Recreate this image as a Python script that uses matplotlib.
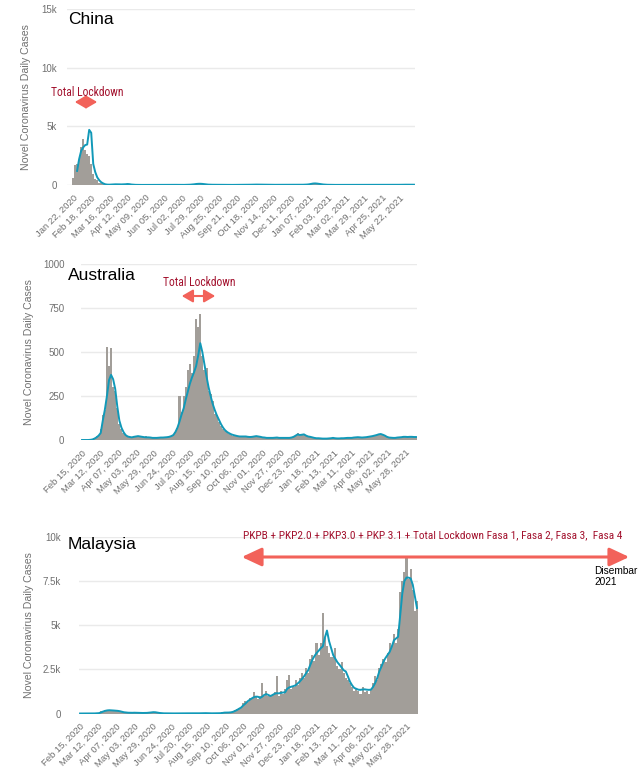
import numpy as np
import pandas as pd
import matplotlib
matplotlib.use("Agg")
import matplotlib.pyplot as plt
from matplotlib import font_manager

nan = np.nan

# --- China: daily cases (3-day steps from Jan 22, 2020) + 7-day average ---
china_start = "2020-01-22"
china_bars = [
    600, 1700, 1800, 2100, 3200, 3900, 3000, 2600, 2500, 1800,
    900, 500, 430, 200, 130, 60, 25, 20, 30, 50,
    60, 70, 50, 50, 40, 50, 70, 110, 50, 25,
    20, 10, 5, 5, 5, 10, 8, 6, 5, 10,
    5, 5, 6, 8, 10, 5, 10, 20, 30, 25,
    20, 15, 10, 10, 8, 10, 15, 20, 25, 40,
    60, 90, 100, 110, 100, 80, 40, 30, 25, 20,
    20, 20, 15, 15, 10, 10, 10, 12, 10, 10,
    10, 12, 15, 20, 15, 12, 15, 20, 25, 30,
    30, 40, 35, 25, 20, 15, 20, 15, 15, 20,
    15, 20, 15, 15, 15, 20, 20, 15, 20, 25,
    20, 20, 25, 25, 20, 30, 40, 60, 100, 130,
    140, 120, 100, 70, 40, 30, 20, 15, 15, 10,
    10, 10, 10, 10, 10, 10, 10, 10, 12, 15,
    15, 12, 10, 15, 20, 20, 15, 15, 20, 20,
    20, 15, 15, 15, 12, 15, 15, 15, 15, 12,
    15, 15, 20, 25, 30, 25, 30, 25, 25, 25,
]
china_avg = [
    nan, nan, 1200, 2200, 2900, 3200, 3400, 3450, 4700, 4450,
    1800, 1100, 650, 400, 230, 130, 60, 35, 30, 40,
    50, 60, 60, 55, 50, 55, 65, 85, 70, 40,
    25, 15, 10, 8, 7, 8, 8, 7, 7, 7,
    7, 6, 7, 8, 8, 9, 12, 18, 24, 24,
    20, 15, 12, 10, 10, 11, 15, 20, 27, 40,
    60, 85, 100, 105, 95, 75, 50, 35, 26, 22,
    20, 18, 16, 14, 12, 11, 11, 11, 10, 10,
    11, 12, 15, 17, 16, 14, 16, 20, 25, 30,
    33, 36, 33, 26, 20, 18, 17, 16, 16, 17,
    17, 17, 16, 15, 16, 18, 18, 18, 20, 22,
    21, 21, 23, 24, 24, 30, 40, 60, 95, 125,
    135, 120, 95, 68, 45, 30, 21, 16, 14, 11,
    10, 10, 10, 10, 10, 10, 10, 10, 12, 14,
    14, 13, 12, 14, 18, 19, 16, 16, 18, 19,
    19, 16, 15, 15, 13, 14, 15, 15, 14, 13,
    14, 15, 19, 24, 27, 27, 28, 26, 25, 25,
]

# --- Australia (3-day steps from Feb 15, 2020) ---
aus_start = "2020-02-15"
aus_bars = [
    0, 0, 0, 0, 2, 5, 10, 20, 30, 60,
    140, 170, 530, 420, 520, 300, 280, 180, 90, 60,
    40, 25, 20, 15, 18, 25, 15, 20, 18, 15,
    15, 20, 12, 10, 15, 12, 10, 15, 18, 12,
    15, 18, 20, 25, 30, 45, 70, 250, 160, 250,
    300, 400, 430, 380, 480, 690, 640, 715, 480, 400,
    410, 280, 260, 220, 150, 140, 100, 80, 60, 50,
    45, 35, 30, 25, 20, 15, 20, 18, 15, 20,
    20, 15, 18, 22, 25, 18, 15, 12, 10, 12,
    10, 12, 14, 10, 15, 12, 10, 12, 14, 10,
    12, 15, 20, 30, 40, 25, 30, 35, 25, 18,
    20, 15, 10, 12, 8, 10, 8, 6, 10, 8,
    12, 10, 8, 10, 8, 12, 10, 12, 14, 10,
    12, 16, 15, 18, 14, 12, 16, 15, 20, 22,
    20, 28, 30, 35, 32, 28, 22, 16, 12, 14,
    10, 14, 12, 16, 18, 15, 20, 16, 18, 20, 15, 18,
]
aus_avg = [
    0, 0, 0, 0, 1, 3, 8, 15, 25, 40,
    110, 172, 250, 340, 370, 345, 290, 190, 110, 70,
    45, 28, 20, 17, 15, 18, 20, 22, 20, 18,
    16, 15, 15, 14, 12, 12, 12, 13, 14, 14,
    15, 16, 18, 22, 28, 45, 70, 105, 145, 180,
    230, 275, 320, 355, 385, 420, 480, 550, 500, 430,
    362, 300, 250, 205, 170, 140, 115, 90, 70, 55,
    45, 38, 32, 28, 25, 22, 20, 20, 20, 20,
    18, 17, 18, 20, 22, 20, 18, 15, 14, 12,
    12, 12, 12, 13, 14, 12, 12, 12, 12, 12,
    12, 14, 18, 25, 32, 28, 30, 32, 25, 20,
    18, 15, 12, 10, 10, 9, 8, 8, 8, 9,
    10, 12, 10, 9, 9, 10, 10, 11, 12, 12,
    12, 14, 15, 16, 15, 14, 15, 16, 18, 20,
    22, 25, 28, 32, 34, 30, 25, 18, 14, 13,
    12, 12, 14, 15, 16, 18, 18, 17, 18, 18, 17, 17,
]

# --- Malaysia (3-day steps from Feb 15, 2020) ---
mys_start = "2020-02-15"
mys_bars = [
    0, 0, 0, 0, 2, 5, 5, 10, 20, 40,
    120, 150, 200, 210, 170, 150, 180, 170, 140, 110,
    90, 60, 50, 40, 30, 50, 60, 35, 30, 40,
    25, 30, 45, 60, 90, 100, 70, 40, 25, 15,
    8, 6, 5, 5, 3, 5, 7, 5, 10, 8,
    10, 12, 15, 18, 12, 10, 8, 15, 20, 15,
    20, 12, 10, 8, 10, 15, 20, 25, 60, 60,
    50, 70, 80, 100, 180, 260, 300, 380, 600, 690,
    660, 870, 820, 1240, 1000, 820, 1000, 1750, 1000, 1250,
    970, 1000, 1100, 1200, 2130, 1000, 1300, 1100, 1400, 1880,
    2180, 1400, 1500, 1900, 1600, 2000, 2300, 2000, 2600, 2300,
    3100, 3300, 3000, 4000, 3300, 4000, 5700, 4300, 3800, 3400,
    3200, 3200, 3700, 2700, 2500, 2900, 2300, 2000, 1900, 1700,
    1500, 1300, 1400, 1250, 1100, 1500, 1200, 1300, 1100, 1400,
    1700, 2100, 1900, 2600, 2800, 3100, 2900, 3400, 4000, 3800,
    4500, 4000, 4800, 6900, 7500, 8000, 8900, 7600, 8200, 7000, 5800, 6400,
]
mys_avg = [
    0, 0, 0, 0, 1, 1, 2, 5, 10, 20,
    60, 110, 150, 175, 185, 180, 170, 160, 150, 130,
    100, 70, 55, 45, 40, 40, 45, 40, 35, 30,
    30, 30, 35, 45, 60, 75, 70, 50, 30, 20,
    10, 8, 6, 5, 5, 5, 5, 6, 8, 8,
    10, 10, 12, 15, 15, 12, 10, 12, 15, 18,
    20, 15, 12, 10, 10, 12, 15, 18, 30, 50,
    50, 55, 65, 90, 140, 200, 270, 340, 460, 560,
    680, 770, 850, 920, 955, 950, 880, 950, 1050, 1100,
    1050, 990, 1050, 1120, 1150, 1140, 1170, 1190, 1200, 1400,
    1480, 1520, 1550, 1600, 1700, 1810, 1950, 2100, 2280, 2450,
    2750, 3040, 3250, 3420, 3550, 3700, 3800, 4300, 4700, 4100,
    3700, 3300, 3100, 2900, 2760, 2600, 2450, 2380, 2100, 1800,
    1600, 1450, 1400, 1350, 1340, 1360, 1370, 1350, 1340, 1350,
    1500, 1720, 2000, 2380, 2650, 2940, 3150, 3320, 3500, 3800,
    4150, 4250, 4350, 5600, 6800, 7500, 7700, 7700, 7650, 7300, 6640, 5980,
]

china_ticks = ["Jan 22, 2020", "Feb 18, 2020", "Mar 16, 2020", "Apr 12, 2020", "May 09, 2020",
               "Jun 05, 2020", "Jul 02, 2020", "Jul 29, 2020", "Aug 25, 2020", "Sep 21, 2020",
               "Oct 18, 2020", "Nov 14, 2020", "Dec 11, 2020", "Jan 07, 2021", "Feb 03, 2021",
               "Mar 02, 2021", "Mar 29, 2021", "Apr 25, 2021", "May 22, 2021"]
other_ticks = ["Feb 15, 2020", "Mar 12, 2020", "Apr 07, 2020", "May 03, 2020", "May 29, 2020",
               "Jun 24, 2020", "Jul 20, 2020", "Aug 15, 2020", "Sep 10, 2020", "Oct 06, 2020",
               "Nov 01, 2020", "Nov 27, 2020", "Dec 23, 2020", "Jan 18, 2021", "Feb 13, 2021",
               "Mar 11, 2021", "Apr 06, 2021", "May 02, 2021", "May 28, 2021"]

W, H = 642, 778
BAR = "#A29E99"
LINE = "#1199B8"
GRID = "#EAEAEA"
TXT = "#707070"
RED = "#F2625A"
DARKRED = "#A3122E"

# pick a narrow face for the lockdown notes if one is installed
names = {f.name for f in font_manager.fontManager.ttflist}
NARROW = [n for n in ["Roboto Condensed", "Open Sans Condensed", "DejaVu Sans Condensed",
                      "Liberation Sans Narrow", "Noto Sans Display"] if n in names]
NARROW = NARROW[:1] + ["Liberation Sans"]
print(NARROW, sorted(names))

plt.rcParams["font.family"] = ["Liberation Sans", "DejaVu Sans"]
fig = plt.figure(figsize=(W / 100, H / 100), dpi=100)


def panel(box, start, bars, avg, ylim, yticks, ylabels, ticks, pad, ylab_x, xpad):
    left, top, right, bottom = box
    ax = fig.add_axes([left / W, 1 - bottom / H, (right - left) / W, (bottom - top) / H])
    dates = pd.date_range(start, periods=len(bars), freq="3D")
    ax.bar(dates, bars, width=3.0, color=BAR, linewidth=0, zorder=2)
    ax.plot(dates, avg, color=LINE, lw=1.4, zorder=3)
    ax.set_ylim(*ylim)
    ax.set_xlim(dates[0] - pd.Timedelta(days=xpad[0]), dates[-1] + pd.Timedelta(days=xpad[1]))
    ax.set_yticks(yticks)
    ax.set_yticklabels(ylabels)
    tick_dates = pd.to_datetime(ticks, format="%b %d, %Y")
    ax.set_xticks(tick_dates)
    ax.set_xticklabels(ticks, rotation=45, ha="right", rotation_mode="anchor")
    ax.tick_params(axis="both", length=0, colors=TXT, labelsize=6.8)
    ax.tick_params(axis="y", pad=pad, labelsize=7)
    ax.tick_params(axis="x", pad=6)
    ax.grid(axis="y", color=GRID, lw=1)
    ax.set_axisbelow(True)
    for s in ax.spines.values():
        s.set_visible(False)
    ax.set_ylabel("Novel Coronavirus Daily Cases", color=TXT, fontsize=7.6)
    ax.yaxis.set_label_coords((ylab_x - left) / (right - left), 0.5)
    return ax


panel((67, 9, 415, 185), china_start, china_bars, china_avg, (0, 15000),
      [0, 5000, 10000, 15000], ["0", "5k", "10k", "15k"], china_ticks, 7, 31, (9, 1.5))
panel((81, 264, 417, 440), aus_start, aus_bars, aus_avg, (0, 1000),
      [0, 250, 500, 750, 1000], ["0", "250", "500", "750", "1000"], other_ticks, 12, 34, (1.5, 1.5))
panel((79, 537, 418, 713.5), mys_start, mys_bars, mys_avg, (0, 10000),
      [0, 2500, 5000, 7500, 10000], ["0", "2.5k", "5k", "7.5k", "10k"], other_ticks, 13, 34, (1.5, 1.5))

# country names
for name, y in [("China", 20), ("Australia", 275), ("Malaysia", 545)]:
    fig.text(68 / W, 1 - y / H, name, fontsize=12.5, color="black", va="center", ha="left")


def arrow(x0, x1, y, style, ms, lw):
    fig.add_artist(matplotlib.patches.FancyArrowPatch(
        (x0 / W, 1 - y / H), (x1 / W, 1 - y / H), transform=fig.transFigure,
        arrowstyle=style, mutation_scale=ms, color=RED, lw=lw))


def note(x0, x1, y, s, size):
    t = fig.text(x0 / W, 1 - y / H, s, family=NARROW, fontsize=size, color=DARKRED,
                 va="center", ha="left")
    # shrink the note until it spans the same width as in the reference
    r = fig.canvas.get_renderer()
    w = t.get_window_extent(r).width
    if w > x1 - x0:
        t.set_fontsize(size * (x1 - x0) / w)


note(51, 123, 92, "Total Lockdown", 8.5)
arrow(72, 100, 102, "<|-|>,head_length=0.55,head_width=0.32", 12, 1.5)
note(163, 235, 283, "Total Lockdown", 8.5)
arrow(179, 218, 296, "<|-|>,head_length=0.55,head_width=0.32", 12, 1.5)
note(243, 620, 535, "PKPB + PKP2.0 + PKP3.0 + PKP 3.1 + Total Lockdown Fasa 1, Fasa 2, Fasa 3,  Fasa 4", 8.5)
arrow(239, 632, 557, "<|-|>,head_length=0.6,head_width=0.28", 20, 2.2)
fig.text(594 / W, 1 - 566 / H, "Disembar\n2021", fontsize=7.3, color="black", va="top",
         ha="left", linespacing=1.15)

fig.savefig("out.png", dpi=100)
